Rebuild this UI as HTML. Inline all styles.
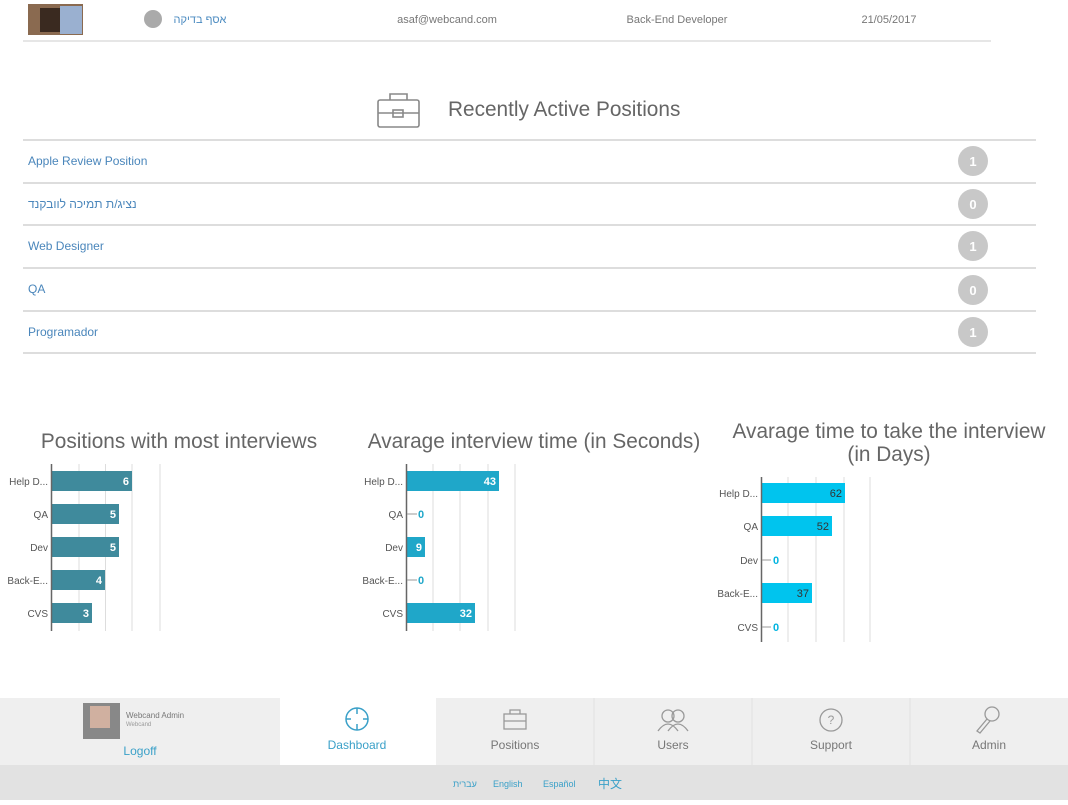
<!DOCTYPE html>
<html><head><meta charset="utf-8"><style>
body{margin:0;width:1068px;height:800px;overflow:hidden;background:#fff;font-family:"Liberation Sans","Noto Sans CJK SC",sans-serif;}
</style></head><body>
<svg width="1068" height="800" xmlns="http://www.w3.org/2000/svg" font-family="Liberation Sans, Noto Sans CJK SC, sans-serif">
<!-- top row -->
<rect x="28" y="4" width="55" height="31" fill="#8a6a50"/>
<rect x="40" y="8" width="20" height="24" fill="#3a2a20"/>
<rect x="60" y="6" width="22" height="28" fill="#9ab0d0"/>
<circle cx="153" cy="19" r="9" fill="#aaa"/>
<text x="200" y="23" font-size="11" fill="#4a8ac0" text-anchor="middle">אסף בדיקה</text>
<text x="447" y="23" font-size="11" fill="#777" text-anchor="middle">asaf@webcand.com</text>
<text x="677" y="23" font-size="11" fill="#777" text-anchor="middle">Back-End Developer</text>
<text x="889" y="23" font-size="11" fill="#777" text-anchor="middle">21/05/2017</text>
<rect x="23" y="40" width="968" height="2" fill="#e6e6e6"/>
<!-- heading -->
<g fill="none" stroke="#888" stroke-width="1.6">
<rect x="378" y="100" width="41" height="27" rx="2"/>
<path d="M390 100 v-6 h17 v6"/>
<path d="M378 113 h41"/>
<rect x="393" y="110" width="10" height="7"/>
</g>
<text x="448" y="116" font-size="20.8" fill="#666">Recently Active Positions</text>
<!-- list -->
<g fill="#ddd">
<rect x="23" y="139" width="1013" height="2"/><rect x="23" y="182" width="1013" height="2"/>
<rect x="23" y="224" width="1013" height="2"/><rect x="23" y="267" width="1013" height="2"/>
<rect x="23" y="310" width="1013" height="2"/><rect x="23" y="352" width="1013" height="2"/>
</g>
<g font-size="12" fill="#4a86bb">
<text x="28" y="165">Apple Review Position</text>
<text x="28" y="208">נציג/ת תמיכה לוובקנד</text>
<text x="28" y="250">Web Designer</text>
<text x="28" y="293">QA</text>
<text x="28" y="336">Programador</text>
</g>
<g fill="#c8c8c8"><circle cx="973" cy="161" r="15"/><circle cx="973" cy="204" r="15"/><circle cx="973" cy="246" r="15"/><circle cx="973" cy="290" r="15"/><circle cx="973" cy="332" r="15"/></g>
<g font-size="13" fill="#fff" text-anchor="middle" font-weight="bold">
<text x="973" y="166">1</text><text x="973" y="209">0</text><text x="973" y="251">1</text><text x="973" y="295">0</text><text x="973" y="337">1</text></g>
<!-- chart titles -->
<g font-size="20.8" fill="#666" text-anchor="middle">
<text x="179" y="448">Positions with most interviews</text>
<text x="534" y="448">Avarage interview time (in Seconds)</text>
<text x="889" y="438">Avarage time to take the interview</text>
<text x="889" y="461">(in Days)</text>
</g>
<!-- chart1 -->
<g stroke="#ddd"><line x1="79" y1="464" x2="79" y2="631"/><line x1="105.5" y1="464" x2="105.5" y2="631"/><line x1="132" y1="464" x2="132" y2="631"/><line x1="160" y1="464" x2="160" y2="631"/></g>
<g fill="#3f8a9c">
<rect x="52" y="471" width="80" height="20"/><rect x="52" y="504" width="67" height="20"/><rect x="52" y="537" width="67" height="20"/><rect x="52" y="570" width="53" height="20"/><rect x="52" y="603" width="40" height="20"/></g>
<line x1="51.5" y1="464" x2="51.5" y2="631" stroke="#666" stroke-width="1.5"/>
<g font-size="10" fill="#555" text-anchor="end">
<text x="48" y="485">Help D...</text><text x="48" y="518">QA</text><text x="48" y="551">Dev</text><text x="48" y="584">Back-E...</text><text x="48" y="617">CVS</text></g>
<g font-size="11" fill="#fff" font-weight="bold" text-anchor="end">
<text x="129" y="485">6</text><text x="116" y="518">5</text><text x="116" y="551">5</text><text x="102" y="584">4</text><text x="89" y="617">3</text></g>
<!-- chart2 -->
<g stroke="#ddd"><line x1="433" y1="464" x2="433" y2="631"/><line x1="460" y1="464" x2="460" y2="631"/><line x1="488" y1="464" x2="488" y2="631"/><line x1="515" y1="464" x2="515" y2="631"/></g>
<g fill="#1fa7c9">
<rect x="407" y="471" width="92" height="20"/><rect x="407" y="537" width="18" height="20"/><rect x="407" y="603" width="68" height="20"/></g>
<line x1="406.5" y1="464" x2="406.5" y2="631" stroke="#666" stroke-width="1.5"/>
<g stroke="#999"><line x1="407" y1="514" x2="417" y2="514"/><line x1="407" y1="580" x2="417" y2="580"/></g>
<g font-size="10" fill="#555" text-anchor="end">
<text x="403" y="485">Help D...</text><text x="403" y="518">QA</text><text x="403" y="551">Dev</text><text x="403" y="584">Back-E...</text><text x="403" y="617">CVS</text></g>
<g font-size="11" fill="#fff" font-weight="bold" text-anchor="end">
<text x="496" y="485">43</text><text x="422" y="551">9</text><text x="472" y="617">32</text></g>
<g font-size="11" fill="#1fa7c9" font-weight="bold"><text x="418" y="518">0</text><text x="418" y="584">0</text></g>
<!-- chart3 -->
<g stroke="#ddd"><line x1="788" y1="477" x2="788" y2="642"/><line x1="816" y1="477" x2="816" y2="642"/><line x1="844" y1="477" x2="844" y2="642"/><line x1="870" y1="477" x2="870" y2="642"/></g>
<g fill="#00c4ee">
<rect x="762" y="483" width="83" height="20"/><rect x="762" y="516" width="70" height="20"/><rect x="762" y="583" width="50" height="20"/></g>
<line x1="761.5" y1="477" x2="761.5" y2="642" stroke="#666" stroke-width="1.5"/>
<g stroke="#999"><line x1="762" y1="560" x2="771" y2="560"/><line x1="762" y1="627" x2="771" y2="627"/></g>
<g font-size="10" fill="#555" text-anchor="end">
<text x="758" y="497">Help D...</text><text x="758" y="530">QA</text><text x="758" y="564">Dev</text><text x="758" y="597">Back-E...</text><text x="758" y="631">CVS</text></g>
<g font-size="11" fill="#333" text-anchor="end">
<text x="842" y="497">62</text><text x="829" y="530">52</text><text x="809" y="597">37</text></g>
<g font-size="11" fill="#00b4e0" font-weight="bold"><text x="773" y="564">0</text><text x="773" y="631">0</text></g>
<!-- bottom nav -->
<rect x="0" y="698" width="1068" height="67" fill="#efefef"/>
<rect x="280" y="698" width="156" height="67" fill="#fff"/>
<g stroke="#e2e2e2"><line x1="594" y1="698" x2="594" y2="765"/><line x1="752" y1="698" x2="752" y2="765"/><line x1="910" y1="698" x2="910" y2="765"/></g>
<rect x="0" y="765" width="1068" height="35" fill="#e2e2e2"/>
<rect x="83" y="703" width="37" height="36" fill="#888"/>
<rect x="90" y="706" width="20" height="22" fill="#d0b0a0"/>
<text x="126" y="718" font-size="8" fill="#777">Webcand Admin</text>
<text x="126" y="726" font-size="6" fill="#999">Webcand</text>
<text x="140" y="755" font-size="12" fill="#3aa0c8" text-anchor="middle">Logoff</text>
<g fill="none" stroke="#3aa0c8" stroke-width="1.5"><circle cx="357" cy="719" r="11"/><path d="M357 708 v6 M357 724 v6 M346 719 h5 M363 719 h5"/></g>
<text x="357" y="749" font-size="12" fill="#3aa0c8" text-anchor="middle">Dashboard</text>
<g fill="none" stroke="#999" stroke-width="1.3">
<rect x="504" y="714" width="22" height="15"/><path d="M510 714 v-4 h10 v4 M504 721 h22"/>
<circle cx="668" cy="716" r="6"/><circle cx="678" cy="716" r="6"/><path d="M658 731 q10 -14 20 0 M668 731 q10 -14 20 0"/>
<circle cx="831" cy="720" r="11"/>
<circle cx="992" cy="714" r="7"/><path d="M987 719 l-10 12 l3 2 l10 -12"/>
</g>
<text x="831" y="724" font-size="12" fill="#999" text-anchor="middle">?</text>
<g font-size="12" fill="#777" text-anchor="middle">
<text x="515" y="749">Positions</text><text x="673" y="749">Users</text><text x="831" y="749">Support</text><text x="989" y="749">Admin</text></g>
<g font-size="9" fill="#3aa0c8"><text x="453" y="787">עברית</text><text x="493" y="787">English</text><text x="543" y="787">Español</text><text x="598" y="788" font-size="12">中文</text></g>
</svg>
</body></html>
